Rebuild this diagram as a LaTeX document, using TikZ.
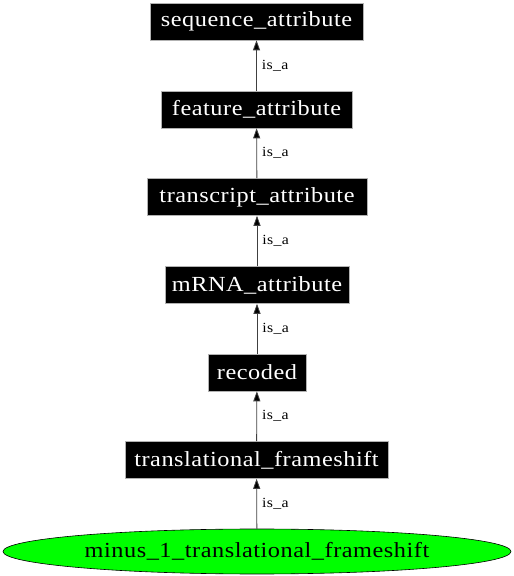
\documentclass[tikz,border=0pt]{standalone}
\usepackage{fontspec}
\setmainfont{Liberation Serif}
\newfontfamily\termfont[LetterSpace=2.5,FakeStretch=1.13]{Liberation Serif}
\usetikzlibrary{arrows.meta,shapes.geometric}
\begin{document}
\begin{tikzpicture}[x=1pt,y=1pt,
  termbox/.style={rectangle, fill=black, draw=gray!60, line width=0.6pt, text=white, minimum height=37pt, inner sep=0pt, font=\termfont\fontsize{21.5}{25}\selectfont},
  leafnode/.style={ellipse, fill=green, draw=black, line width=0.6pt, minimum width=508pt, minimum height=45pt, inner sep=0pt, font=\termfont\fontsize{21.5}{25}\selectfont},
  isa/.style={draw=black!75, line width=0.8pt, -{Triangle[length=10pt,width=7pt,fill=black]}},
  lbl/.style={right, inner sep=0pt, xshift=5pt, font=\termfont\fontsize{14}{17}\selectfont}]
\useasboundingbox (0,0) rectangle (514,576);
\node[termbox, minimum width=213pt] (seq) at (256.5,554.5) {sequence\_attribute};
\node[termbox, minimum width=191pt] (feat) at (256.5,466.5) {feature\_attribute};
\node[termbox, minimum width=220pt] (trans) at (257,379) {transcript\_attribute};
\node[termbox, minimum width=184pt] (mrna) at (257,291) {mRNA\_attribute};
\node[termbox, minimum width=98pt] (rec) at (257,203.5) {recoded};
\node[termbox, minimum width=263pt] (tf) at (256.5,116) {translational\_frameshift};
\node[leafnode] (m1) at (257,24.5) {minus\_1\_translational\_frameshift};
\draw[isa] (feat) -- node[lbl] {is\_a} (seq);
\draw[isa] (trans) -- node[lbl] {is\_a} (feat);
\draw[isa] (mrna) -- node[lbl] {is\_a} (trans);
\draw[isa] (rec) -- node[lbl] {is\_a} (mrna);
\draw[isa] (tf) -- node[lbl] {is\_a} (rec);
\draw[isa] (m1) -- node[lbl] {is\_a} (tf);
\end{tikzpicture}
\end{document}
